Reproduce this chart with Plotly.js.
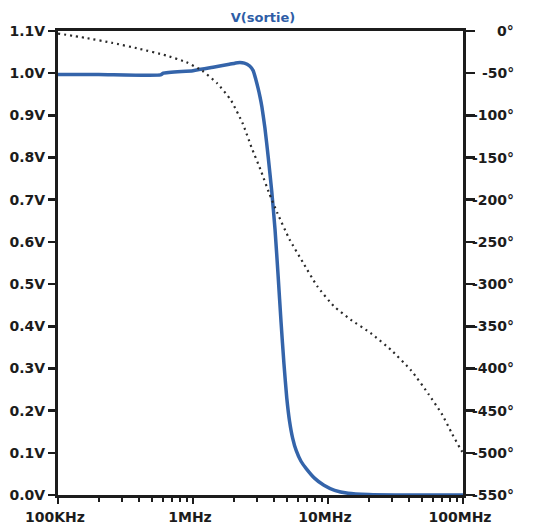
<!DOCTYPE html>
<html>
<head>
<meta charset="utf-8">
<script src="https://cdn.plot.ly/plotly-3.0.1.min.js"></script>
<style>
  html, body { margin: 0; padding: 0; background: #ffffff; }
  #chart { width: 544px; height: 526px; }
</style>
</head>
<body>
<div id="chart"></div>
<script>
// ---- Data ----
// Magnitude V(sortie) in volts vs frequency (Hz)
const magFreq = [1.0e5, 2.0e5, 5.75e5, 6.03e5, 1.0e6, 1.41e6, 1.86e6, 2.14e6, 2.40e6, 2.63e6,
                 2.79e6, 2.92e6, 3.03e6, 3.13e6, 3.24e6, 3.41e6, 3.61e6, 3.83e6, 4.05e6, 4.27e6,
                 4.49e6, 4.72e6, 4.95e6, 5.19e6, 5.47e6, 5.82e6, 6.31e6, 6.92e6, 7.94e6, 9.33e6,
                 1.12e7, 1.41e7, 2.0e7, 3.16e7, 1.0e8];
const magVolt = [0.997, 0.997, 0.996, 1.000, 1.006, 1.014, 1.021, 1.025, 1.024, 1.017,
                 1.006, 0.985, 0.965, 0.945, 0.920, 0.870, 0.800, 0.720, 0.630, 0.520,
                 0.410, 0.310, 0.230, 0.175, 0.135, 0.105, 0.080, 0.062, 0.040, 0.023,
                 0.011, 0.004, 0.001, 0.000, 0.000];

// Phase in degrees vs frequency (Hz)
const phaseFreq = [1.0e5, 1.58e5, 2.51e5, 3.98e5, 6.31e5, 8.91e5, 1.17e6, 1.51e6, 1.91e6, 2.34e6,
                   2.71e6, 3.17e6, 3.66e6, 4.21e6, 5.20e6, 6.52e6, 8.32e6, 1.10e7, 1.47e7, 2.08e7,
                   2.93e7, 4.15e7, 5.57e7, 6.98e7, 8.32e7, 9.57e7, 1.0e8];
const phaseDeg = [-3, -8, -14, -21, -29, -37, -47, -62, -82, -110,
                  -137.8, -164.8, -192.0, -215.6, -247.3, -274.3, -302.5, -325.9, -342.1, -358.3,
                  -378.1, -402.7, -430.7, -454.2, -477.7, -495.3, -500];

// Tick values and labels
const freqTicks = [1e5, 1e6, 1e7, 1e8];
const freqTickText = ['100KHz', '1MHz', '10MHz', '100MHz'];
const voltTicks = [0, 0.1, 0.2, 0.3, 0.4, 0.5, 0.6, 0.7, 0.8, 0.9, 1.0, 1.1];
const voltTickText = ['0.0V', '0.1V', '0.2V', '0.3V', '0.4V', '0.5V', '0.6V', '0.7V', '0.8V', '0.9V', '1.0V', '1.1V'];
const phaseTicks = [0, -50, -100, -150, -200, -250, -300, -350, -400, -450, -500, -550];
const titleText = 'V(sortie)';

// ---- Styling ----
const FONT = 'DejaVu Sans, Liberation Sans, Arial, sans-serif';
const INK = '#1c1c1c';
const BLUE = '#3464aa';

const minorTicks = [];
for (let d = 5; d < 8; d++) {
  for (let m = 2; m <= 9; m++) minorTicks.push(m * Math.pow(10, d));
}

const traces = [
  {
    x: magFreq, y: magVolt, type: 'scatter', mode: 'lines',
    line: { color: BLUE, width: 3.5, shape: 'spline', smoothing: 0.5 },
    xaxis: 'x', yaxis: 'y', hoverinfo: 'skip'
  },
  {
    x: phaseFreq, y: phaseDeg, type: 'scatter', mode: 'lines',
    line: { color: '#2a2a2a', width: 2.2, dash: '2px,4px', shape: 'spline', smoothing: 0.5 },
    xaxis: 'x', yaxis: 'y2', hoverinfo: 'skip'
  }
];

const annotations = phaseTicks.map(t => ({
  xref: 'paper', yref: 'y2',
  x: 1 + (515 - 463) / 405, y: t,
  xanchor: 'right', yanchor: 'middle',
  text: t + '°', showarrow: false, borderpad: 0,
  font: { family: FONT, size: 14, color: INK, weight: 'bold' }
}));

const layout = {
  width: 544, height: 526,
  margin: { l: 58, r: 81, t: 31, b: 31 },
  paper_bgcolor: '#ffffff', plot_bgcolor: '#ffffff',
  showlegend: false,
  hovermode: false,
  title: {
    text: '<b>' + titleText + '</b>',
    font: { family: FONT, size: 13, color: '#2e5da6' },
    x: 263 / 544, xanchor: 'center', xref: 'container',
    y: 1 - 17 / 526, yanchor: 'middle', yref: 'container'
  },
  xaxis: {
    type: 'log', range: [5, 8],
    tickmode: 'array', tickvals: freqTicks, ticktext: freqTickText,
    ticks: 'outside', ticklen: 6, tickwidth: 2.5, tickcolor: INK,
    ticklabelstandoff: 1, ticklabelshift: -3,
    minor: { tickmode: 'array', tickvals: minorTicks, ticks: 'outside', ticklen: 4, tickwidth: 2, tickcolor: INK, showgrid: false },
    showline: true, linewidth: 3, linecolor: INK, mirror: true,
    showgrid: false, zeroline: false,
    tickfont: { family: FONT, size: 14, color: INK, weight: 'bold' }
  },
  yaxis: {
    range: [0, 1.1],
    tickmode: 'array', tickvals: voltTicks, ticktext: voltTickText,
    ticks: 'outside', ticklen: 7, tickwidth: 2.5, tickcolor: INK,
    showline: true, linewidth: 3, linecolor: INK,
    showgrid: false, zeroline: false,
    tickfont: { family: FONT, size: 14, color: INK, weight: 'bold' }
  },
  yaxis2: {
    range: [-550, 0], overlaying: 'y', side: 'right',
    tickmode: 'array', tickvals: phaseTicks, showticklabels: false,
    ticks: 'outside', ticklen: 9, tickwidth: 2.5, tickcolor: INK,
    showline: true, linewidth: 3, linecolor: INK,
    showgrid: false, zeroline: false
  },
  annotations: annotations
};

Plotly.newPlot('chart', traces, layout, { displayModeBar: false, staticPlot: true });
</script>
</body>
</html>
